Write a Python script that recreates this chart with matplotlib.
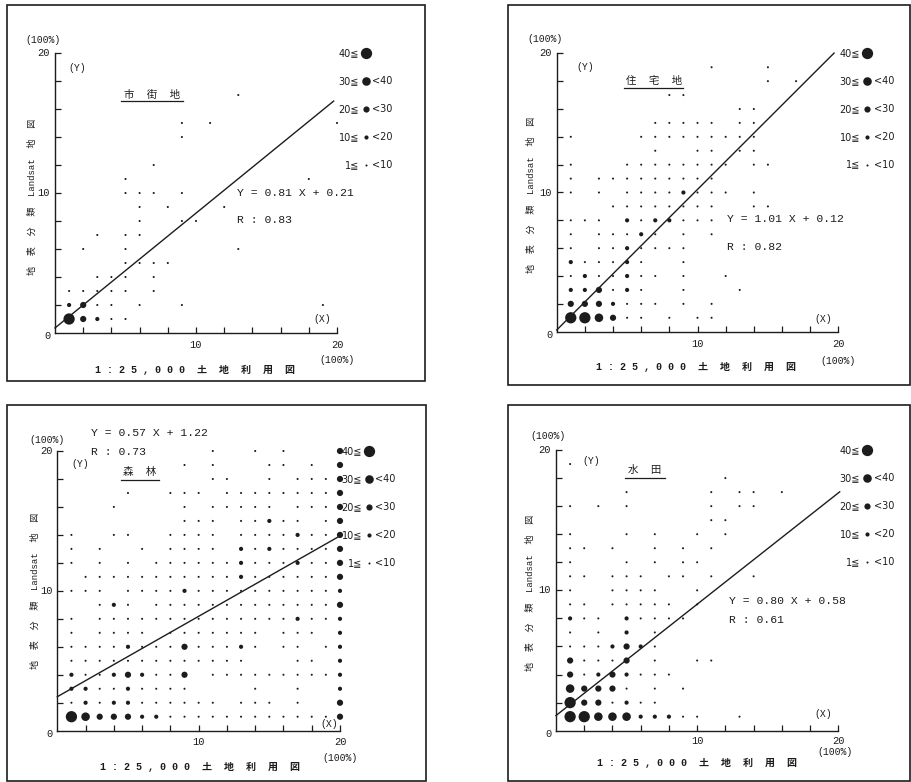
import matplotlib
matplotlib.use('Agg')
import matplotlib.pyplot as plt
from matplotlib.patches import Rectangle

# dot size class per grid cell, rows go from Y=20 (top) down to Y=1, columns X=1..20
# 1: 1-10, 2: 10-20, 3: 20-30, 4: 30-40, 5: 40 and over, '.': no dot
grid_shigaichi = [
    "..... ..... ..... .....",  # 20
    "..... ..... ..... .....",  # 19
    "..... ..... ..... .....",  # 18
    "..... ..... ..1.. .....",  # 17
    "..... ..... ..... .....",  # 16
    "..... ...1. 1.... ....1",  # 15
    "..... ...1. ..... .....",  # 14
    "..... ..... ..... .....",  # 13
    "..... .1... ..... .....",  # 12
    "....1 ..... ..... ..1..",  # 11
    "....1 11.1. ..... .....",  # 10
    "..... 1.1.. .1... .....",  # 9
    "..... 1..11 ..... .....",  # 8
    "..1.1 1.... ..... .....",  # 7
    ".1..1 ..... ..1.. .....",  # 6
    "....1 111.. ..... .....",  # 5
    "..111 .1... ..... .....",  # 4
    "11111 .1... ..... .....",  # 3
    "2311. 1..1. ..... ...1.",  # 2
    "53211 ..... ..... .....",  # 1
]

grid_jutaku = [
    "..... ..... ..... .....",  # 20
    "..... ..... 1...1 .....",  # 19
    "..... ..... ....1 .1...",  # 18
    "..... ..11. ..... .....",  # 17
    "..... ..... ..11. .....",  # 16
    "..... .1111 1.11. .....",  # 15
    "1.... 11111 1111. .....",  # 14
    "..... .1..1 1.11. .....",  # 13
    "1...1 11111 11.11 .....",  # 12
    "1.111 11111 1.... .....",  # 11
    "1.1.1 11121 11.1. .....",  # 10
    "...11 11111 1..11 .....",  # 9
    "111.2 12211 1.... .....",  # 8
    "1.111 21.1. 1.... .....",  # 7
    "1.112 1111. ..... .....",  # 6
    "21112 1..1. ..... .....",  # 5
    "12112 11.1. .1... .....",  # 4
    "22312 1..1. ..1.. .....",  # 3
    "33321 11.1. 1.... .....",  # 2
    "55431 1.1.1 1.... .....",  # 1
]

grid_shinrin = [
    "..... ..... 1..1. 1...3",  # 20
    "..... ...1. 1...1 1.1.3",  # 19
    "..... ..... 11..1 .1113",  # 18
    "....1 ..111 .1111 11113",  # 17
    "...1. ...1. 11111 .1113",  # 16
    "..... ...11 1.112 11.13",  # 15
    "1..11 ..111 1.111 12113",  # 14
    "1.1.. 1.111 1.212 11113",  # 13
    "1.1.1 .1111 11211 12113",  # 12
    ".1111 11111 11211 11113",  # 11
    "111.1 11121 11111 11112",  # 10
    "..121 .1111 11111 11113",  # 9
    "1.111 11111 11111 12112",  # 8
    "1.111 1.111 1111. 111.2",  # 7
    "11112 11131 1121. 11.12",  # 6
    "11111 11111 111.. .11.2",  # 5
    "21123 2113. 11111 11112",  # 4
    "22112 1111. ...1. .1..2",  # 3
    "12122 11111 1.111 .1..3",  # 2
    "54333 22111 11111 11113",  # 1
]

grid_suiden = [
    "..... ..... ..... .....",  # 20
    "1.... ..... ..... .....",  # 19
    "..... ..... .1... .....",  # 18
    "....1 ..... 1.11. 1....",  # 17
    "1.1.1 ..... 1.11. .....",  # 16
    "..... ..... 11... .....",  # 15
    "1...1 .1..1 .1... .....",  # 14
    "11.1. .1.1. 1.... .....",  # 13
    "1...1 .1.11 ..... .....",  # 12
    "11.11 1.11. 1..1. .....",  # 11
    "1..11 11..1 ..... .....",  # 10
    "11.11 111.1 ..... .....",  # 9
    "211.2 1111. ..... .....",  # 8
    "1.1.2 .1... ..... .....",  # 7
    "11123 21... ..... .....",  # 6
    "31113 .1..1 1.... .....",  # 5
    "31232 111.. ..... .....",  # 4
    "43331 .1.1. ..... .....",  # 3
    "53312 11... ..... .....",  # 2
    "55444 22211 ..1.. .....",  # 1
]

grids = [grid_shigaichi, grid_jutaku, grid_shinrin, grid_suiden]
titles = ['市  街  地', '住  宅  地', '森  林', '水  田']
equations = ['Y = 0.81 X + 0.21', 'Y = 1.01 X + 0.12', 'Y = 0.57 X + 1.22', 'Y = 0.80 X + 0.58']
r_values = ['R : 0.83', 'R : 0.82', 'R : 0.73', 'R : 0.61']

# regression line as it is drawn on the sheet
line_slope = [0.82, 1.01, 0.575, 0.793]
line_icpt = [0.36, 0.12, 2.43, 1.08]
line_xmax = [19.76, 19.7, 20.0, 20.1]

legend_left = ['40≦', '30≦', '20≦', '10≦', '1≦']
legend_right = ['', '<40', '<30', '<20', '<10']
legend_class = [5, 4, 3, 2, 1]

ink = '#1c1c1c'
dot_area = [0, 2.2, 9.0, 20, 38, 66]
mono = ['Liberation Mono', 'Noto Sans CJK JP']
sans = ['DejaVu Sans', 'Noto Sans CJK JP']

W, H = 911, 782
fig = plt.figure(figsize=(W / 100, H / 100), dpi=100)
fig.patch.set_facecolor('white')

# pixel boxes (left, top, right, bottom)
frames_px = [(7, 5, 425, 381), (508, 5, 910, 385), (7, 405, 426, 781), (508, 405, 910, 781)]
axes_px = [(55, 53, 337, 333), (556.7, 53.3, 838.3, 331.7), (57.3, 451, 340, 730.7), (556, 450, 838.3, 730.7)]

# text placement in data units for each panel
eq_pos = [(12.9, 10.0), (12.07, 8.1), (2.36, 21.3), (12.25, 9.27)]
r_pos = [(12.9, 8.05), (12.07, 6.06), (2.36, 19.9), (12.25, 7.9)]
title_pos = [(6.9, 17.0), (6.9, 18.0), (5.85, 18.5), (6.3, 18.6)]
uline = [(4.7, 9.1, 16.55), (4.8, 9.0, 17.5), (4.5, 7.2, 17.95), (4.9, 7.75, 18.0)]
ymark_pos = [(1.6, 18.9), (2.0, 19.0), (1.6, 19.1), (2.5, 19.2)]
xmark_pos = [(18.95, 1.0), (18.9, 0.9), (19.2, 0.45), (18.9, 1.2)]
xlabel_pos = [(9.94, -2.64), (9.87, -2.5), (10.1, -2.6), (10.0, -2.3)]
ylabel_pos = [(-1.6, 9.7), (-1.78, 9.8), (-1.58, 10.0), (-1.84, 9.8)]
top100_pos = [(-0.85, 20.9), (-0.83, 21.0), (-0.75, 20.8), (-0.55, 21.0)]
bot100_pos = [(20.0, -1.92), (19.96, -2.1), (20.0, -1.97), (19.8, -1.5)]
xnum_y = [-0.85, -0.85, -0.8, -0.72]

for k in range(4):
    fl, ft, fr, fb = frames_px[k]
    fig.add_artist(Rectangle((fl / W, 1 - fb / H), (fr - fl) / W, (fb - ft) / H,
                             transform=fig.transFigure, fill=False, lw=1.2, ec=ink))

    l, t, r, b = axes_px[k]
    ax = fig.add_axes([l / W, 1 - b / H, (r - l) / W, (b - t) / H])
    ax.patch.set_alpha(0)
    ax.set_xlim(0, 20)
    ax.set_ylim(0, 20)
    for side in ['top', 'right']:
        ax.spines[side].set_visible(False)
    for side in ['left', 'bottom']:
        ax.spines[side].set_linewidth(1.0)
        ax.spines[side].set_color(ink)
    ax.set_xticks(range(2, 21, 2))
    ax.set_yticks(range(2, 21, 2))
    ax.set_xticklabels([])
    ax.set_yticklabels([])
    ax.tick_params(direction='in', length=4.5, width=0.9, color=ink)

    # dots
    xs, ys, ss = [], [], []
    for i, row in enumerate(grids[k]):
        cells = row.replace(' ', '')
        for j, ch in enumerate(cells):
            if ch != '.':
                xs.append(j + 1)
                ys.append(20 - i)
                ss.append(dot_area[int(ch)])
    ax.scatter(xs, ys, s=ss, c=ink, linewidths=0, clip_on=False, zorder=3)

    # regression line
    xl = [0, line_xmax[k]]
    yl = [line_icpt[k] + line_slope[k] * x for x in xl]
    ax.plot(xl, yl, color=ink, lw=1.0, clip_on=False)

    # legend of dot sizes
    for n in range(5):
        ly = 20 - 2 * n
        ax.text(21.55, ly, legend_left[n], ha='right', va='center', fontsize=7,
                family=sans, color=ink)
        ax.scatter([22.05], [ly], s=dot_area[legend_class[n]], c=ink, linewidths=0, clip_on=False)
        ax.text(22.5, ly, legend_right[n], ha='left', va='center', fontsize=7,
                family=sans, color=ink)

    # texts
    ax.text(*eq_pos[k], equations[k], ha='left', va='center', fontsize=8.2, family=mono, color=ink)
    ax.text(*r_pos[k], r_values[k], ha='left', va='center', fontsize=8.2, family=mono, color=ink)
    ax.text(*title_pos[k], titles[k], ha='center', va='center', fontsize=7.5, family=mono, color=ink)
    ax.plot(uline[k][:2], [uline[k][2]] * 2, color=ink, lw=0.9, clip_on=False)
    ax.text(*ymark_pos[k], '(Y)', ha='center', va='center', fontsize=7, family=mono, color=ink)
    ax.text(*xmark_pos[k], '(X)', ha='center', va='center', fontsize=7, family=mono, color=ink)
    ax.text(*top100_pos[k], '(100%)', ha='center', va='center', fontsize=7, family=mono, color=ink)
    ax.text(*bot100_pos[k], '(100%)', ha='center', va='center', fontsize=7, family=mono, color=ink)

    ax.text(-0.35, 20, '20', ha='right', va='center', fontsize=7.5, family=mono, color=ink)
    ax.text(-0.35, 10, '10', ha='right', va='center', fontsize=7.5, family=mono, color=ink)
    ax.text(-0.3, -0.25, '0', ha='right', va='center', fontsize=7.5, family=mono, color=ink)
    ax.text(10, xnum_y[k], '10', ha='center', va='center', fontsize=7.5, family=mono, color=ink)
    ax.text(20, xnum_y[k], '20', ha='center', va='center', fontsize=7.5, family=mono, color=ink)

    ax.text(*xlabel_pos[k], '1 : 2 5 , 0 0 0  土  地  利  用  図', ha='center', va='center',
            fontsize=7.2, family=mono, weight='bold', color=ink)
    ax.text(*ylabel_pos[k], '地  表  分  類  Landsat  地  図', ha='center', va='center',
            rotation=90, fontsize=6.5, family=mono, color=ink)

fig.savefig('out.png', dpi=100, facecolor='white')
